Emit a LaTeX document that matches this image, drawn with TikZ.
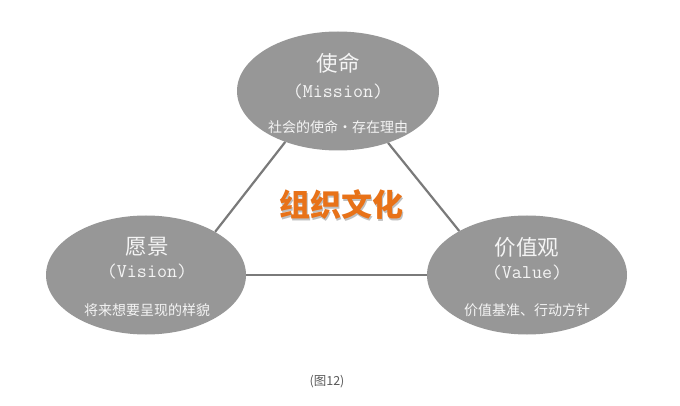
\documentclass[tikz,border=0pt]{standalone}
\usepackage{fontspec}
\usetikzlibrary{shapes.geometric}
\newfontfamily\cjk{Noto Sans CJK SC}
\definecolor{ellfill}{RGB}{151,151,151}
\definecolor{elltext}{RGB}{244,244,244}
\definecolor{linkc}{RGB}{122,122,122}
\definecolor{orangec}{RGB}{232,114,24}
\definecolor{capc}{RGB}{90,90,90}
\begin{document}
\begin{tikzpicture}[x=1pt,y=-1pt,
  ell/.style={ellipse,fill=ellfill,draw=none,inner sep=0pt,minimum width=200pt,minimum height=119pt},
  ttl/.style={text=elltext,inner sep=0pt,font=\cjk\fontsize{21.5}{21.5}\selectfont},
  eng/.style={text=elltext,inner sep=0pt,font=\ttfamily\fontsize{19.5}{19.5}\selectfont},
  sub/.style={text=elltext,inner sep=0pt,font=\cjk\fontsize{14}{14}\selectfont},
  link/.style={draw=linkc,line width=2.2pt},
  core/.style={inner sep=0pt,font=\cjk\bfseries\fontsize{31}{31}\selectfont}]
\useasboundingbox[fill=white] (0,0) rectangle (680,406);
\node[ell,minimum width=202pt] (mission) at (338,91) {};
\node[ell] (vision) at (146,275) {};
\node[ell] (value) at (527,275) {};
\draw[link] (mission.224) -- (vision.32);
\draw[link] (mission.314) -- (value.147.5);
\draw[link] (vision.east) -- (value.west);
\node[ttl] (missiont) at (338,63) {使命};
\node[eng] (missione) at (338,92) {(Mission)};
\node[sub] (missions) at (338,127) {社会的使命・存在理由};
\node[ttl] (visiont) at (147,247) {愿景};
\node[eng] (visione) at (147,272) {(Vision)};
\node[sub] (visions) at (147,310) {将来想要呈现的样貌};
\node[ttl] (valuet) at (527,247) {价值观};
\node[eng] (valuee) at (527,273) {(Value)};
\node[sub] (values) at (527,310) {价值基准、行动方针};
\node[core,text=black!25] (coreshadow) at (342.5,206.5) {组织文化};
\node[core,text=orangec] (coretext) at (341,205) {组织文化};
\node[inner sep=0pt,text=capc,font=\cjk\fontsize{12.5}{12.5}\selectfont] (caption) at (327,382) {(图12)};
\end{tikzpicture}
\end{document}
